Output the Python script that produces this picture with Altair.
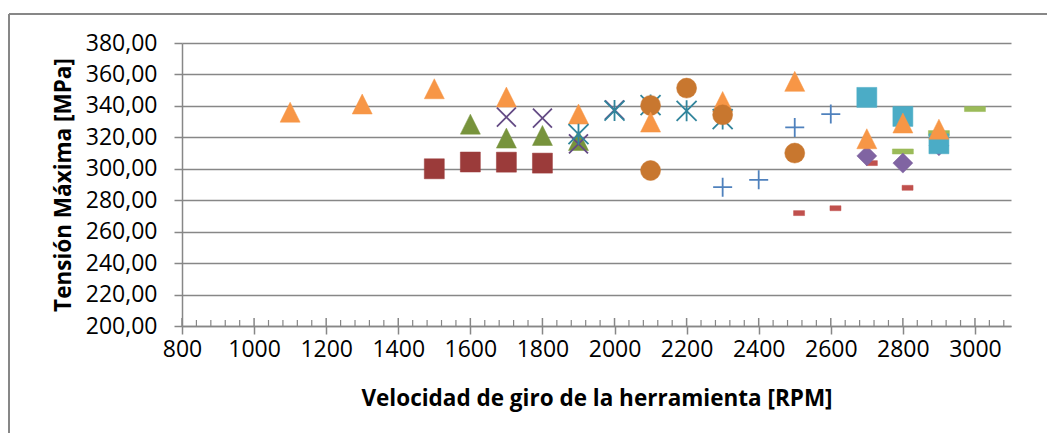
import altair as alt
import pandas as pd

# ---------------- data ----------------
x_tick_values = [800, 1000, 1200, 1400, 1600, 1800, 2000, 2200, 2400, 2600, 2800, 3000]
y_tick_values = [200, 220, 240, 260, 280, 300, 320, 340, 360, 380]

mas_rpm = [2300, 2400, 2500, 2600]
mas_mpa = [288.3, 293.0, 326.3, 334.8]

guion_rojo_rpm = [2512, 2613, 2714, 2813]
guion_rojo_mpa = [271.8, 274.9, 303.6, 287.9]

guion_verde_rpm = [2800, 2900, 3000]
guion_verde_mpa = [311.0, 322.7, 338.0]

rombo_rpm = [2700, 2800, 2900]
rombo_mpa = [308.2, 303.6, 314.6]

cuadrado_cian_rpm = [2700, 2800, 2900]
cuadrado_cian_mpa = [345.4, 333.3, 315.9]

triangulo_naranja_rpm = [1100, 1300, 1500, 1700, 1900, 2300, 2500, 2700, 2800, 2900]
triangulo_naranja_mpa = [336.0, 341.2, 350.9, 345.6, 334.8, 342.8, 355.6, 319.1, 329.1, 325.2]

cuadrado_granate_rpm = [1500, 1600, 1700, 1800]
cuadrado_granate_mpa = [300.0, 304.3, 304.2, 303.6]

triangulo_oliva_rpm = [1600, 1700, 1800, 1900]
triangulo_oliva_mpa = [328.4, 319.5, 321.2, 318.0]

aspa_rpm = [1700, 1800, 1900, 2000]
aspa_mpa = [332.9, 332.2, 315.9, 337.5]

asterisco_rpm = [1900, 2000, 2100, 2200, 2300]
asterisco_mpa = [322.0, 337.0, 340.5, 336.9, 331.6]

circulo_rpm = [2100, 2100, 2200, 2300, 2500]
circulo_mpa = [340.3, 298.9, 351.3, 334.3, 310.0]

triangulo_naranja2_rpm = [2100]
triangulo_naranja2_mpa = [329.7]

# ---------------- styles ----------------
FONT = "Open Sans"
GRID = "#878787"
W, H = 829, 283

TRI = "M0,-1L1,1L-1,1Z"
PLUS = "M-1,0L1,0M0,-1L0,1"
CROSS = "M-1,-1L1,1M-1,1L1,-1"
STAR = "M-1,-1L1,1M-1,1L1,-1M0,-1.05L0,1.05"
DASH_S = "M-1,-0.45L1,-0.45L1,0.45L-1,0.45Z"
DASH_L = "M-1,-0.24L1,-0.24L1,0.24L-1,0.24Z"

series = [
    (mas_rpm, mas_mpa, PLUS, "#4F81BD", 361, False),
    (guion_rojo_rpm, guion_rojo_mpa, DASH_S, "#C0504D", 121, True),
    (guion_verde_rpm, guion_verde_mpa, DASH_L, "#9BBB59", 441, True),
    (rombo_rpm, rombo_mpa, "diamond", "#8064A2", 400, True),
    (cuadrado_cian_rpm, cuadrado_cian_mpa, "square", "#4BACC6", 400, True),
    (triangulo_naranja_rpm, triangulo_naranja_mpa, TRI, "#F79646", 400, True),
    (cuadrado_granate_rpm, cuadrado_granate_mpa, "square", "#9B3B3A", 400, True),
    (triangulo_oliva_rpm, triangulo_oliva_mpa, TRI, "#77933C", 400, True),
    (aspa_rpm, aspa_mpa, CROSS, "#644B85", 361, False),
    (asterisco_rpm, asterisco_mpa, STAR, "#31859C", 400, False),
    (circulo_rpm, circulo_mpa, "circle", "#C8772F", 400, True),
    (triangulo_naranja2_rpm, triangulo_naranja2_mpa, TRI, "#F79646", 400, True),
]

xscale = alt.Scale(domain=[800, 3100], nice=False, zero=False)
yscale = alt.Scale(domain=[200, 380], nice=False, zero=False)

xaxis = alt.Axis(
    values=x_tick_values, format="d", title="Velocidad de giro de la herramienta [RPM]",
    grid=False, domainColor=GRID, domainWidth=1.5, tickColor=GRID, tickWidth=1.5,
    tickSize=8, labelFont=FONT, labelFontSize=23, labelColor="black",
    labelPadding=15, labelBaseline="middle", labelFlush=False, labelOverlap=False,
    titleFont=FONT, titleFontSize=22.5, titleFontWeight="bold", titleColor="black",
    titleY=72, titleBaseline="middle",
)
yaxis = alt.Axis(
    values=y_tick_values, labelExpr="replace(format(datum.value, '.2f'), '.', ',')",
    grid=True, gridColor=GRID, gridWidth=1.5, domainColor=GRID, domainWidth=1.5,
    tickColor=GRID, tickWidth=1.5, tickSize=8, labelFont=FONT, labelFontSize=23,
    labelColor="black", labelPadding=17, labelOverlap=False,
    title="Tensión Máxima [MPa]", titleFont=FONT, titleFontSize=22.5,
    titleFontWeight="bold", titleColor="black", titleX=-119, titleBaseline="middle",
    titleAngle=-90,
)

X = lambda: alt.X("rpm:Q", scale=xscale, axis=xaxis)
Y = lambda: alt.Y("mpa:Q", scale=yscale, axis=yaxis)

layers = []

# axis tick marks drawn inside the plot (minor and upper half of major ticks)
minor_ticks = [v for v in range(800, 3101, 40) if v not in x_tick_values]
layers.append(
    alt.Chart(pd.DataFrame({"rpm": minor_ticks})).mark_rule(color=GRID, strokeWidth=1.2)
    .encode(x=X(), y=alt.value(H - 6), y2=alt.value(H))
)
layers.append(
    alt.Chart(pd.DataFrame({"rpm": x_tick_values})).mark_rule(color=GRID, strokeWidth=1.5)
    .encode(x=X(), y=alt.value(H - 8), y2=alt.value(H))
)

for rpm, mpa, shape, color, size, filled in series:
    df = pd.DataFrame({"rpm": rpm, "mpa": mpa})
    if filled:
        mark = alt.Chart(df).mark_point(shape=shape, size=size, filled=True, fill=color,
                                        stroke=color, strokeWidth=0.5, opacity=1)
    else:
        mark = alt.Chart(df).mark_point(shape=shape, size=size, filled=False, stroke=color,
                                        strokeWidth=1.8, opacity=1)
    layers.append(mark.encode(x=X(), y=Y()))

# chart-area frame (left and top edges visible in the reference)
frame_df = pd.DataFrame({"k": [0]})
layers.append(
    alt.Chart(frame_df).mark_rule(color=GRID, strokeWidth=2)
    .encode(x=alt.value(-173), y=alt.value(-29), y2=alt.value(H + 107))
)
layers.append(
    alt.Chart(frame_df).mark_rule(color=GRID, strokeWidth=2)
    .encode(x=alt.value(-173), x2=alt.value(W + 36), y=alt.value(-29))
)

chart = (
    alt.layer(*layers)
    .properties(
        width=W, height=H,
        autosize=alt.AutoSizeParams(type="none"),
        padding={"left": 174, "top": 35, "right": 36, "bottom": 107},
        background="white",
    )
    .configure_view(strokeWidth=0)
)

chart.save("out.html", embed_options={"renderer": "svg", "actions": False})
